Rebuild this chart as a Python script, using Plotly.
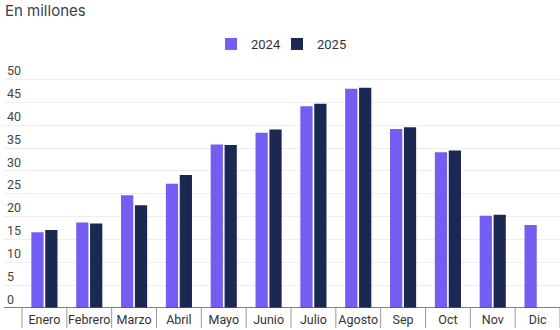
import plotly.graph_objects as go

# Monthly figures, in millions
months = ["Enero", "Febrero", "Marzo", "Abril", "Mayo", "Junio",
          "Julio", "Agosto", "Sep", "Oct", "Nov", "Dic"]
values_2024 = [16.6, 18.7, 24.7, 27.2, 35.8, 38.4, 44.2, 48.0, 39.2, 34.1, 20.2, 18.2]
values_2025 = [17.1, 18.5, 22.5, 29.1, 35.7, 39.1, 44.7, 48.2, 39.6, 34.5, 20.4, None]
y_ticks = [0, 5, 10, 15, 20, 25, 30, 35, 40, 45, 50]

W, H = 560, 330
M_L, M_R, M_T, M_B = 4, 0, 62, 22
plot_w = W - M_L - M_R
plot_h = H - M_T - M_B
y_max = plot_h / 4.567
# categories start 18px to the right of the left edge of the plot area
cat_w = (plot_w - 18) / len(months)
x_lo = -0.5 - 18 / cat_w

fig = go.Figure()
fig.add_trace(go.Bar(x=months, y=values_2024, name="2024", legend="legend",
                     marker=dict(color="#735df3", line=dict(width=0))))
fig.add_trace(go.Bar(x=months, y=values_2025, name="2025", legend="legend2",
                     marker=dict(color="#1b2852", line=dict(width=0))))

# category separators hanging below the baseline
sep_len = 20 / plot_h
for i in range(len(months) + 1):
    fig.add_shape(type="line", xref="x", yref="paper",
                  x0=i - 0.5, x1=i - 0.5, y0=0, y1=-sep_len,
                  line=dict(color="#9a9a9a", width=1))

# baseline
fig.add_shape(type="line", xref="paper", yref="y", x0=0, x1=1, y0=0, y1=0,
              line=dict(color="#555555", width=1.5))

legend_style = dict(orientation="h", xref="container", yref="container",
                    xanchor="left", yanchor="middle", y=1 - 44 / H,
                    font=dict(size=13, color="#333333"), itemwidth=30,
                    bgcolor="rgba(0,0,0,0)")

fig.update_layout(
    width=W, height=H,
    margin=dict(l=M_L, r=M_R, t=M_T, b=M_B),
    paper_bgcolor="white", plot_bgcolor="white",
    font=dict(family="Roboto, sans-serif", size=12, color="#333333"),
    barmode="group", bargap=0.38, bargroupgap=0.12,
    showlegend=True,
    legend=dict(x=211 / W, **legend_style),
    legend2=dict(x=277 / W, **legend_style),
    title=dict(text="En millones", x=5 / W, xref="container", xanchor="left",
               y=1 - 11 / H, yref="container", yanchor="middle",
               font=dict(family="Inter, Roboto, sans-serif", size=15, color="#3b3f4a")),
    xaxis=dict(type="category", range=[x_lo, len(months) - 0.5],
               showgrid=False, zeroline=False, showline=False, ticks="",
               tickfont=dict(size=12.5, color="#333333"), ticklabelstandoff=2),
    yaxis=dict(range=[0, y_max], tickvals=y_ticks, ticktext=[str(v) for v in y_ticks],
               ticklabelposition="inside top", showgrid=True,
               gridcolor="#eeeeee", gridwidth=1, zeroline=False, showline=False,
               tickfont=dict(size=12.5, color="#444444")),
)

fig.write_html("out.html")
